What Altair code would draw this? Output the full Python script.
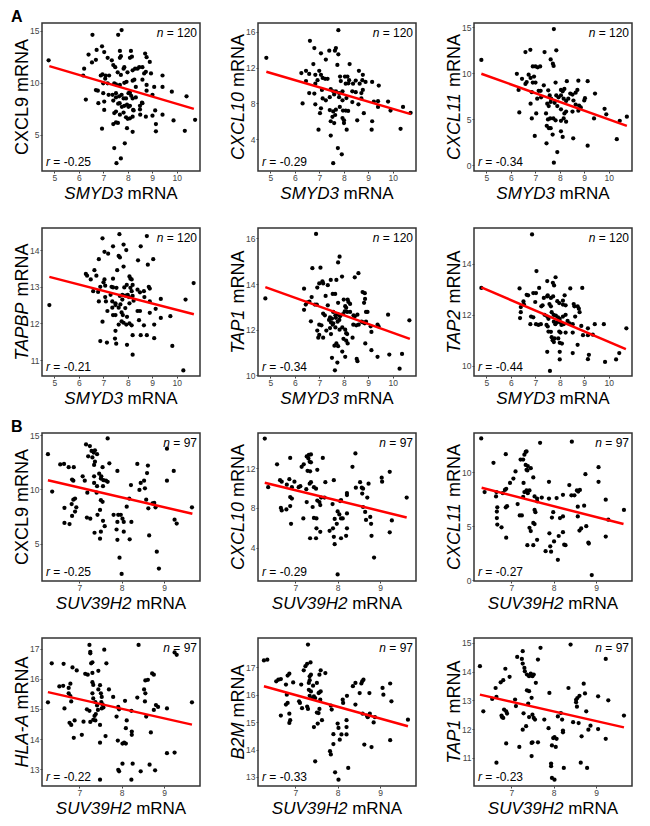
import altair as alt
import pandas as pd

# ---------------- data ----------------
A_CXCL9 = [(4.77,12.15),(6.56,14.6),(7.61,14.6),(7.75,15.05),(6.95,13.5),(6.73,13.15),(6.40,12.7),(7.04,12.95),(7.68,13.05),(7.72,12.55),(7.68,12.4),(8.13,13.05),(8.17,12.5),(8.09,12.4),(8.71,12.8),(8.77,12.45),(8.9,12.0),(6.54,11.95),(6.70,12.2),(7.18,12.4),(7.35,12.15),(7.41,11.7),(7.49,11.5),(6.22,11.35),(6.18,10.7),(7.83,11.35),(7.86,11.5),(7.59,11.0),(7.72,10.75),(7.99,11.0),(8.2,11.2),(8.3,11.35),(8.4,11.35),(8.47,11.5),(8.6,11.5),(8.67,10.9),(8.74,11.05),(8.95,10.9),(9.42,10.7),(6.9,10.7),(6.97,10.8),(7.1,10.7),(7.24,10.7),(7.08,10.4),(7.0,9.95),(7.18,9.95),(7.45,9.95),(7.52,9.85),(7.68,9.8),(7.86,10.0),(7.95,10.1),(8.2,10.2),(8.27,10.3),(8.33,9.6),(8.6,10.3),(8.77,9.8),(9.08,9.6),(9.42,9.6),(9.8,9.15),(10.4,8.7),(6.29,8.4),(6.70,9.3),(6.78,9.25),(7.0,9.0),(7.22,8.85),(7.38,8.85),(7.52,9.0),(7.65,8.7),(7.75,8.85),(7.83,8.5),(7.93,8.5),(8.03,9.0),(8.09,9.05),(8.14,8.75),(8.2,8.5),(8.33,8.6),(8.58,8.1),(8.77,9.25),(9.01,8.85),(6.8,8.05),(7.04,8.2),(7.04,7.4),(7.41,8.3),(7.52,8.6),(7.61,8.0),(7.67,8.05),(7.76,7.7),(7.86,7.8),(7.97,7.9),(8.03,7.7),(8.09,7.8),(8.22,7.4),(8.5,7.8),(8.5,7.45),(8.6,8.05),(8.74,6.75),(9.01,6.85),(9.42,6.95),(9.12,7.35),(6.95,5.6),(7.45,7.1),(7.52,7.25),(7.68,6.95),(7.83,7.15),(7.93,6.7),(8.0,6.55),(8.09,6.6),(8.2,6.75),(8.24,7.35),(8.51,6.95),(9.87,6.4),(10.75,6.45),(9.15,6.05),(9.15,5.35),(10.33,5.4),(7.41,6.05),(7.52,6.2),(7.6,6.15),(7.97,5.65),(8.2,5.3),(7.45,3.75),(7.88,4.2),(7.72,2.75),(7.54,2.3)]

A_CXCL10 = [(4.84,13.1),(7.78,16.2),(6.62,15.0),(6.8,14.2),(7.07,13.6),(7.41,13.9),(7.68,14.2),(7.64,13.9),(7.78,13.5),(6.76,12.4),(7.27,12.9),(7.74,12.3),(8.24,12.4),(6.27,11.4),(6.46,11.65),(6.59,11.3),(6.84,11.2),(7.0,11.65),(7.07,11.2),(7.14,10.85),(7.24,10.75),(7.34,10.75),(8.05,11.0),(8.15,11.0),(8.22,10.6),(7.85,11.0),(8.62,11.65),(8.78,11.2),(6.84,10.2),(6.93,10.6),(6.46,10.5),(7.88,10.5),(8.08,10.2),(8.19,10.25),(8.38,10.2),(8.49,10.55),(8.65,10.2),(8.76,10.6),(8.89,10.4),(9.16,10.4),(9.43,10.0),(6.8,9.1),(7.11,9.5),(7.47,9.6),(7.57,9.35),(7.68,9.35),(7.81,9.15),(7.95,9.35),(8.35,9.35),(8.49,9.25),(8.72,9.15),(8.78,9.5),(6.32,8.0),(6.59,9.15),(6.84,7.9),(7.14,8.55),(7.27,8.35),(7.43,8.7),(7.61,9.0),(7.81,8.7),(7.95,8.35),(8.11,8.6),(8.35,8.15),(8.72,8.55),(9.23,8.2),(9.4,8.25),(9.81,8.2),(7.07,7.45),(7.43,7.25),(7.57,7.1),(7.68,7.3),(7.84,7.6),(7.97,7.2),(8.08,7.2),(8.18,7.15),(8.6,7.9),(8.82,6.9),(9.4,7.6),(9.91,7.2),(10.42,7.6),(10.73,6.95),(7.03,6.9),(7.47,6.0),(7.54,6.5),(7.65,6.7),(7.95,6.35),(8.01,6.1),(8.01,5.8),(8.55,6.1),(9.16,6.0),(9.14,5.05),(10.32,5.15),(6.97,5.05),(7.61,5.8),(8.12,5.05),(7.47,4.4),(7.76,3.0),(7.92,2.3),(7.57,1.3)]

A_CXCL11 = [(4.8,11.45),(7.76,14.8),(6.6,12.3),(6.8,12.55),(7.38,12.3),(7.86,12.5),(7.63,11.5),(7.72,11.05),(7.75,10.8),(6.9,10.75),(7.01,10.75),(7.1,10.65),(7.2,10.75),(6.25,9.95),(6.73,9.85),(6.81,9.5),(6.95,9.65),(6.46,9.4),(6.6,8.85),(6.32,8.2),(6.65,9.05),(6.9,9.0),(7.01,9.0),(7.35,8.7),(7.83,9.0),(8.29,9.15),(8.76,9.2),(9.14,9.15),(7.14,8.1),(7.22,8.1),(6.86,7.95),(7.53,8.15),(8.05,8.2),(8.12,8.05),(8.19,8.3),(8.43,7.8),(8.52,7.7),(8.65,7.9),(8.72,8.2),(9.44,7.8),(6.81,6.7),(7.08,7.25),(7.24,7.4),(7.59,7.6),(7.65,7.25),(7.86,7.6),(7.95,7.4),(8.05,7.6),(8.16,7.25),(8.26,7.0),(8.35,7.25),(8.56,7.05),(8.65,6.6),(8.79,6.5),(9.0,7.05),(9.03,7.3),(8.76,5.95),(8.86,6.3),(9.83,6.15),(9.9,5.55),(7.49,6.7),(7.55,6.45),(7.63,6.9),(7.79,6.8),(7.9,6.45),(8.05,6.1),(8.19,5.65),(8.26,5.85),(8.52,5.85),(6.35,5.75),(7.04,5.65),(7.44,5.65),(7.52,5.0),(7.61,5.1),(7.74,5.1),(7.83,4.9),(8.05,4.85),(8.16,5.1),(8.26,4.75),(9.4,5.1),(10.45,4.85),(10.74,5.3),(6.86,5.1),(7.47,4.3),(7.56,4.05),(7.63,4.05),(7.71,3.35),(8.05,3.7),(8.12,3.1),(6.98,3.2),(7.46,2.4),(8.55,2.95),(10.33,2.85),(9.14,2.15),(7.9,1.45),(7.76,0.3)]

A_TAPBP = [(4.8,12.5),(6.97,14.32),(7.66,14.43),(8.78,14.38),(7.4,14.1),(7.83,14.15),(7.94,14.0),(7.05,13.95),(7.2,13.9),(6.82,13.75),(7.63,13.84),(7.68,13.8),(8.53,14.1),(8.42,13.72),(9.04,13.75),(7.83,13.55),(7.57,13.45),(6.64,13.45),(6.29,13.35),(6.34,13.3),(6.49,13.2),(6.72,13.3),(7.05,13.2),(7.01,13.12),(7.4,13.22),(8.07,13.28),(8.11,13.22),(8.16,13.2),(8.82,13.6),(6.88,13.0),(7.08,13.03),(7.34,13.0),(7.4,12.98),(7.54,12.97),(7.86,12.98),(7.96,13.05),(8.11,12.97),(8.2,13.05),(8.16,12.88),(8.4,12.92),(8.66,12.88),(8.86,13.0),(8.9,12.95),(6.59,12.88),(6.79,12.86),(7.08,12.72),(7.11,12.6),(7.3,12.78),(7.37,12.6),(7.5,12.55),(7.68,12.75),(7.78,12.78),(7.78,12.65),(7.9,12.76),(8.0,12.78),(8.05,12.72),(8.2,12.75),(8.24,12.62),(8.5,12.85),(8.68,12.72),(9.35,12.67),(10.36,12.65),(10.69,13.1),(6.82,12.6),(7.37,12.43),(7.5,12.5),(7.63,12.43),(7.7,12.52),(7.9,12.42),(8.07,12.55),(8.9,12.6),(8.4,12.34),(8.5,12.34),(7.17,12.34),(7.4,12.23),(7.5,12.23),(7.75,12.3),(7.8,12.23),(7.97,12.18),(8.9,12.29),(9.14,12.4),(9.35,12.15),(9.74,12.2),(7.75,12.06),(7.83,12.02),(7.94,11.97),(8.07,12.0),(8.16,11.95),(6.97,12.05),(7.63,11.97),(8.46,12.09),(8.66,11.95),(9.08,11.97),(7.5,11.8),(8.2,11.68),(7.48,11.59),(7.53,11.45),(6.88,11.52),(7.15,11.48),(7.97,11.42),(8.53,11.68),(8.78,11.68),(9.08,11.6),(8.2,11.15),(9.82,11.39),(10.27,10.72)]

A_TAP1 = [(4.8,13.37),(6.87,16.2),(7.83,15.2),(6.72,14.7),(7.05,14.72),(7.47,14.18),(7.7,14.18),(7.93,14.33),(7.13,14.12),(7.16,14.03),(7.0,14.03),(7.35,13.95),(7.77,14.95),(8.45,14.3),(8.6,14.48),(6.38,13.8),(6.92,13.85),(7.26,13.48),(7.55,13.57),(7.65,13.57),(6.69,13.43),(6.45,13.1),(6.52,13.2),(6.6,13.23),(6.38,12.87),(6.82,13.1),(6.9,13.1),(7.35,13.07),(7.77,13.18),(8.0,13.32),(8.16,13.32),(8.19,13.22),(8.26,13.13),(8.77,13.65),(8.86,13.6),(8.87,13.35),(8.83,13.18),(8.06,13.03),(8.1,12.96),(8.04,12.8),(8.14,12.78),(7.97,12.68),(7.85,12.59),(7.16,12.71),(7.23,12.63),(7.57,12.78),(7.66,12.63),(7.75,12.68),(7.44,12.54),(7.52,12.49),(7.68,12.52),(7.4,12.43),(7.48,12.32),(7.57,12.28),(7.75,12.35),(7.82,12.43),(8.26,12.78),(8.4,12.63),(8.45,12.59),(8.56,12.66),(8.91,12.78),(8.97,12.78),(8.73,12.35),(8.79,12.32),(8.86,12.28),(8.91,12.35),(9.81,12.66),(10.68,12.41),(9.38,12.22),(9.42,12.15),(9.1,12.15),(9.13,11.9),(8.39,12.22),(8.51,12.19),(8.61,12.22),(7.0,12.22),(7.09,12.19),(7.44,12.07),(7.55,12.22),(7.66,12.1),(7.83,12.0),(7.94,12.1),(8.06,12.0),(8.1,11.85),(8.14,11.81),(6.66,12.37),(6.92,11.96),(7.0,11.77),(7.16,11.65),(6.96,11.65),(7.29,11.96),(7.48,11.81),(7.99,11.6),(8.1,11.52),(8.16,11.4),(7.7,11.4),(7.77,11.28),(7.62,11.3),(7.94,11.04),(8.36,11.65),(8.88,11.4),(9.13,11.1),(9.38,10.81),(9.86,10.91),(10.38,10.94),(8.06,10.81),(7.52,10.77),(7.74,10.56),(8.53,10.72),(8.56,10.62),(7.64,10.22),(10.28,10.29)]

A_TAP2 = [(4.8,13.05),(6.87,15.15),(7.05,13.71),(7.83,13.47),(7.72,13.25),(7.77,13.15),(7.49,13.32),(6.36,13.03),(7.16,13.05),(8.43,13.03),(8.92,13.05),(6.65,12.78),(6.71,12.76),(6.92,12.85),(7.03,12.85),(7.35,12.66),(7.49,12.72),(7.51,12.76),(7.64,12.66),(7.73,12.72),(8.2,12.76),(8.13,12.55),(7.9,12.53),(7.98,12.46),(8.57,12.42),(8.6,12.33),(8.73,12.33),(6.54,12.4),(6.41,12.3),(6.52,12.52),(7.0,12.5),(7.25,12.33),(7.3,12.37),(7.58,12.42),(7.64,12.33),(8.13,12.4),(8.24,12.37),(8.78,12.24),(8.81,12.1),(6.41,12.1),(6.38,11.87),(6.83,11.93),(6.92,11.9),(7.38,12.0),(7.49,11.93),(7.54,11.84),(7.67,12.1),(7.75,12.0),(7.84,11.97),(7.93,11.9),(8.0,11.84),(8.13,11.93),(8.24,12.0),(8.32,11.76),(8.63,11.93),(7.03,11.63),(7.13,11.6),(7.23,11.63),(6.8,11.63),(7.46,11.6),(7.51,11.54),(7.76,11.73),(7.82,11.63),(7.89,11.7),(8.03,11.7),(8.07,11.6),(8.16,11.63),(8.4,11.66),(8.53,11.63),(8.88,11.56),(9.15,11.47),(9.43,11.63),(9.8,11.63),(10.72,11.47),(7.54,11.34),(7.64,11.33),(7.98,11.34),(8.03,11.3),(8.24,11.3),(8.53,11.3),(8.95,11.2),(9.15,11.2),(9.35,11.22),(7.67,11.12),(7.71,11.0),(7.76,10.93),(7.79,11.07),(7.94,11.07),(8.0,10.9),(8.09,10.87),(8.73,10.82),(7.49,10.55),(8.0,10.55),(8.53,10.5),(9.19,10.43),(9.15,10.26),(8.0,10.25),(10.43,10.5),(10.3,10.25),(9.85,10.15),(7.6,9.8)]

B_CXCL9 = [(6.26,13.25),(6.36,9.8),(6.55,12.3),(6.64,12.35),(6.75,12.05),(6.87,12.05),(6.83,10.9),(6.86,10.8),(6.86,9.05),(6.9,9.15),(6.82,8.65),(6.93,8.35),(6.65,8.3),(6.9,7.95),(6.83,7.55),(6.65,6.9),(6.77,6.8),(7.08,11.2),(7.13,10.8),(7.16,14.15),(7.25,14.0),(7.21,13.05),(7.29,13.55),(7.34,13.4),(7.37,13.6),(7.31,12.95),(7.37,12.55),(7.35,12.25),(7.42,13.25),(7.67,14.7),(7.35,11.2),(7.35,10.6),(7.47,11.45),(7.52,11.2),(7.55,12.05),(7.51,11.0),(7.57,10.85),(7.63,10.8),(7.67,10.7),(7.71,12.4),(7.19,9.7),(7.41,9.7),(7.51,9.0),(7.55,8.85),(7.18,7.4),(7.26,7.3),(7.43,7.65),(7.49,8.1),(7.56,7.1),(7.6,6.6),(7.36,6.0),(7.49,5.45),(7.51,6.1),(7.81,7.65),(7.9,11.7),(7.92,7.65),(7.98,7.65),(7.9,7.0),(7.88,6.3),(7.9,5.35),(8.19,5.4),(8.02,7.3),(8.05,7.0),(8.05,6.1),(7.95,3.7),(8.0,2.2),(8.12,8.4),(8.22,10.4),(8.18,9.15),(8.23,7.0),(8.37,12.35),(8.42,9.95),(8.45,10.6),(8.53,10.8),(8.55,10.1),(8.58,9.05),(8.6,11.5),(8.62,12.2),(8.63,8.25),(8.65,5.75),(8.73,8.7),(8.77,8.75),(8.8,8.35),(8.83,4.25),(8.88,2.7),(9.07,13.75),(9.07,10.8),(9.23,11.7),(9.25,7.2),(9.3,6.85),(9.66,8.35),(7.56,10.3),(7.42,10.3)]

B_CXCL10 = [(6.28,15.0),(6.36,10.1),(6.57,12.4),(6.64,10.8),(6.68,10.65),(6.66,8.0),(6.68,7.75),(6.79,7.85),(6.8,10.35),(6.86,10.9),(6.88,13.05),(6.88,9.1),(6.92,8.95),(6.88,8.2),(6.92,10.1),(6.9,6.4),(6.98,10.65),(7.08,10.1),(7.12,10.2),(7.19,6.95),(7.15,12.15),(7.2,12.4),(7.27,13.2),(7.32,13.35),(7.37,13.4),(7.31,13.0),(7.34,12.65),(7.37,12.6),(7.29,11.75),(7.35,11.7),(7.26,9.9),(7.27,8.6),(7.34,10.45),(7.37,10.6),(7.35,4.95),(7.41,8.1),(7.44,10.1),(7.49,9.95),(7.44,7.0),(7.5,6.95),(7.5,5.95),(7.49,4.95),(7.52,11.85),(7.52,8.75),(7.57,8.6),(7.59,8.3),(7.59,5.6),(7.65,13.05),(7.61,9.05),(7.69,9.05),(7.71,10.6),(7.81,5.7),(7.88,8.4),(7.91,10.8),(7.89,5.95),(7.91,5.1),(7.93,6.9),(7.93,4.35),(7.98,6.4),(8.0,1.3),(8.0,7.65),(8.04,7.35),(8.06,8.7),(8.08,8.8),(8.08,6.95),(8.12,6.95),(8.08,4.95),(8.2,5.2),(8.22,5.95),(8.22,7.45),(8.22,9.5),(8.22,9.3),(8.35,12.15),(8.42,13.5),(8.43,10.05),(8.53,10.6),(8.57,10.05),(8.6,9.95),(8.58,9.45),(8.6,8.1),(8.65,7.6),(8.67,6.8),(8.7,9.05),(8.73,10.45),(8.77,7.1),(8.79,6.4),(8.8,5.2),(8.86,3.0),(9.04,11.05),(9.05,10.65),(9.23,11.65),(9.23,5.55),(9.28,6.75),(9.63,9.05)]

B_CXCL11 = [(6.29,13.1),(6.37,8.15),(6.58,10.85),(6.65,8.15),(6.64,7.75),(6.66,5.75),(6.67,5.15),(6.67,6.75),(6.66,6.35),(6.77,4.9),(6.8,8.05),(6.87,11.65),(6.85,8.35),(6.88,8.45),(6.87,6.75),(6.9,6.85),(6.88,3.95),(6.97,9.0),(7.05,9.4),(7.1,10.05),(7.15,7.05),(7.2,6.0),(7.25,6.0),(7.22,11.15),(7.28,11.15),(7.29,9.0),(7.28,7.7),(7.31,11.6),(7.34,11.85),(7.36,11.9),(7.34,10.65),(7.39,10.55),(7.38,10.15),(7.36,10.2),(7.31,8.15),(7.36,8.3),(7.39,8.05),(7.38,3.25),(7.43,8.3),(7.43,4.85),(7.46,4.55),(7.46,10.35),(7.52,9.5),(7.52,5.3),(7.55,5.2),(7.52,3.25),(7.55,6.5),(7.57,6.3),(7.55,7.75),(7.61,7.55),(7.61,7.3),(7.61,3.75),(7.68,12.7),(7.72,7.65),(7.89,9.1),(7.89,7.55),(7.9,4.35),(7.92,3.15),(7.94,2.65),(7.96,5.8),(7.99,6.3),(8.01,3.6),(7.81,2.7),(8.07,7.6),(8.1,1.9),(8.12,4.1),(8.15,5.75),(8.22,5.9),(8.22,7.9),(8.25,3.3),(8.28,3.25),(8.22,4.45),(8.37,8.8),(8.42,7.85),(8.49,7.85),(8.43,12.8),(8.55,8.3),(8.58,8.2),(8.62,8.35),(8.57,6.8),(8.57,5.9),(8.61,4.6),(8.65,4.8),(8.72,6.9),(8.75,9.8),(8.77,5.0),(8.82,3.5),(8.83,3.4),(8.9,0.5),(9.06,10.45),(9.06,9.1),(9.23,7.45),(9.23,4.05),(9.29,5.6),(9.66,6.5)]

B_HLAA = [(6.26,15.22),(6.35,16.52),(6.63,16.5),(6.53,15.75),(6.62,15.77),(6.65,15.02),(6.75,15.52),(6.79,15.43),(6.79,15.84),(6.81,15.25),(6.75,15.7),(6.84,16.38),(6.94,16.28),(6.77,14.54),(6.81,14.47),(6.89,14.62),(6.87,14.04),(7.06,14.14),(7.1,14.58),(7.14,16.17),(7.2,16.14),(7.18,14.99),(7.24,14.94),(7.24,17.13),(7.26,16.9),(7.26,16.85),(7.28,16.52),(7.31,16.55),(7.31,16.2),(7.31,15.89),(7.33,15.8),(7.31,15.52),(7.26,14.57),(7.33,15.35),(7.38,15.23),(7.36,14.77),(7.39,14.83),(7.42,15.12),(7.44,14.97),(7.33,14.64),(7.38,14.62),(7.45,15.65),(7.49,15.79),(7.49,14.47),(7.45,16.27),(7.51,15.52),(7.53,15.4),(7.52,15.23),(7.55,15.15),(7.57,15.05),(7.53,15.02),(7.59,16.97),(7.62,14.1),(7.64,16.52),(7.7,15.65),(7.49,13.88),(7.8,15.4),(7.88,14.75),(7.91,13.95),(7.92,15.07),(7.94,14.99),(7.92,12.98),(7.94,12.93),(8.02,13.85),(8.06,13.88),(8.1,13.85),(8.02,13.18),(8.08,15.27),(8.1,14.36),(8.12,14.62),(8.23,14.94),(8.24,14.25),(8.24,14.14),(8.26,13.18),(8.23,12.65),(8.37,15.38),(8.4,17.13),(8.45,12.93),(8.53,15.65),(8.56,15.52),(8.55,15.25),(8.56,15.95),(8.62,15.97),(8.58,14.75),(8.66,13.15),(8.69,14.22),(8.72,16.18),(8.76,16.14),(8.76,14.97),(8.79,12.96),(8.81,15.13),(8.86,15.07),(9.07,15.02),(9.07,13.53),(9.25,13.55),(9.25,16.88),(9.3,16.8),(9.66,15.22),(7.49,12.65)]

B_B2M = [(6.26,17.25),(6.34,17.28),(6.55,16.49),(6.6,16.55),(6.66,16.57),(6.66,15.24),(6.78,16.37),(6.82,16.7),(6.86,16.77),(6.8,16.0),(6.82,15.7),(6.78,15.64),(6.86,15.31),(6.88,15.07),(6.86,14.97),(6.95,16.45),(7.09,15.76),(7.11,15.7),(7.14,16.37),(7.16,15.51),(7.2,16.89),(7.24,17.04),(7.28,17.13),(7.36,17.18),(7.3,17.83),(7.28,15.57),(7.3,15.48),(7.32,16.43),(7.34,16.53),(7.34,16.67),(7.37,16.73),(7.32,16.18),(7.37,16.12),(7.34,15.96),(7.4,15.88),(7.44,15.94),(7.47,15.88),(7.44,14.82),(7.42,16.33),(7.47,13.57),(7.51,15.35),(7.55,15.33),(7.57,15.48),(7.55,16.06),(7.57,16.09),(7.6,16.12),(7.57,16.73),(7.6,16.89),(7.51,16.43),(7.53,14.95),(7.59,15.82),(7.63,15.07),(7.71,16.79),(7.82,13.94),(7.84,13.82),(7.84,15.6),(7.86,15.46),(7.9,14.56),(7.9,14.2),(7.94,13.17),(8.02,12.9),(8.0,14.95),(8.02,14.79),(8.05,14.36),(8.09,14.55),(8.12,15.82),(8.13,15.7),(8.21,15.07),(8.21,14.82),(8.21,14.55),(8.22,15.96),(8.25,13.33),(8.36,16.31),(8.42,16.43),(8.42,15.64),(8.52,16.06),(8.56,16.41),(8.58,16.49),(8.61,16.55),(8.63,14.18),(8.59,15.31),(8.69,15.24),(8.71,15.18),(8.75,16.06),(8.76,15.31),(8.8,14.09),(8.85,14.99),(8.88,15.18),(9.06,16.25),(9.08,16.0),(9.24,16.41),(9.27,15.76),(9.24,14.34),(9.66,15.09)]

B_TAP1 = [(6.26,14.19),(6.34,12.62),(6.55,13.05),(6.63,13.43),(6.65,13.12),(6.65,10.83),(6.75,13.63),(6.81,13.7),(6.78,12.42),(6.81,12.39),(6.77,12.47),(6.83,12.68),(6.88,12.62),(6.9,12.54),(6.86,14.1),(6.88,11.5),(6.96,13.82),(7.09,13.03),(7.11,12.8),(7.14,14.51),(7.19,11.38),(7.25,14.44),(7.27,14.28),(7.27,14.71),(7.27,11.98),(7.31,14.13),(7.32,14.01),(7.37,13.9),(7.29,12.55),(7.35,12.1),(7.37,13.35),(7.42,13.32),(7.4,12.89),(7.42,12.42),(7.42,13.84),(7.46,13.93),(7.48,11.52),(7.5,11.54),(7.48,13.09),(7.48,11.06),(7.5,12.5),(7.53,12.39),(7.56,12.33),(7.5,13.84),(7.53,13.9),(7.58,13.61),(7.63,14.42),(7.63,11.54),(7.69,14.83),(7.78,12.33),(7.9,13.26),(7.88,12.03),(7.94,10.8),(7.94,10.71),(7.96,11.43),(7.99,11.69),(8.02,11.72),(8.07,11.66),(7.96,10.3),(8.02,10.24),(8.05,11.38),(8.1,12.44),(8.17,12.56),(8.2,12.33),(8.22,11.95),(8.22,11.89),(8.24,10.65),(8.35,13.43),(8.4,14.94),(8.46,12.24),(8.53,12.93),(8.53,13.02),(8.56,13.08),(8.55,12.78),(8.59,12.21),(8.61,13.16),(8.64,10.83),(8.66,11.75),(8.71,13.58),(8.74,13.24),(8.77,12.62),(8.79,10.65),(8.82,11.98),(8.87,12.12),(9.05,13.14),(9.05,12.0),(9.23,14.44),(9.23,11.66),(9.29,13.0),(9.66,12.47)]

# regression lines: (start, end)
A_CXCL9_LINE = [(4.8, 11.6), (10.7, 7.5)]
A_CXCL10_LINE = [(4.84, 11.55), (10.74, 6.8)]
A_CXCL11_LINE = [(4.8, 9.95), (10.74, 4.3)]
A_TAPBP_LINE = [(4.8, 13.27), (10.7, 12.25)]
A_TAP1_LINE = [(4.8, 13.87), (10.7, 11.6)]
A_TAP2_LINE = [(4.8, 13.07), (10.7, 10.65)]
B_CXCL9_LINE = [(6.26, 10.85), (9.67, 7.75)]
B_CXCL10_LINE = [(6.28, 10.55), (9.63, 7.05)]
B_CXCL11_LINE = [(6.3, 8.55), (9.65, 5.2)]
B_HLAA_LINE = [(6.26, 15.56), (9.66, 14.48)]
B_B2M_LINE = [(6.26, 16.31), (9.66, 14.85)]
B_TAP1_LINE = [(6.26, 13.2), (9.66, 12.06)]

N_A = 120
N_B = 97
R_VALUES = ["-0.25", "-0.29", "-0.34", "-0.21", "-0.34", "-0.44",
            "-0.25", "-0.29", "-0.27", "-0.22", "-0.33", "-0.23"]
X_TICKS_A = [5, 6, 7, 8, 9, 10]
X_TICKS_B = [7, 8, 9]
X_DOMAIN_A = [4.5, 10.95]
X_DOMAIN_B = [6.12, 9.85]

# ---------------- layout / style ----------------
FONT = "Liberation Sans"
W, H = 158, 148
XT, YT, AN = 17, 18, 12
ONE = pd.DataFrame({"k": [0]})

AW = {' ': 278, '-': 333, '.': 278, '=': 584, 'A': 667, 'B': 667, 'C': 722, 'D': 722,
      'H': 722, 'L': 556, 'M': 833, 'N': 722, 'P': 667, 'R': 722, 'S': 667, 'T': 611,
      'U': 722, 'V': 667, 'X': 667, 'Y': 667, 'm': 833, 'n': 556, 'r': 333}


def tw(s, size):
    return sum(AW.get(c, 556) for c in s) * size / 1000.0


def txt(s, x, y, size, italic=False, bold=False, angle=0, align="left"):
    kw = dict(text=s, font=FONT, fontSize=size, align=align, baseline="alphabetic", color="black")
    if italic:
        kw["fontStyle"] = "italic"
    if bold:
        kw["fontWeight"] = "bold"
    if angle:
        kw["angle"] = angle
    return alt.Chart(ONE).mark_text(**kw).encode(x=alt.value(x), y=alt.value(y))


def segs_width(segs, size):
    return sum(tw(s, size) for s, _ in segs) + tw(" ", size) * (len(segs) - 1)


def panel(pts, line, xsegs, ysegs, n, r, xdom, xticks, ydom, yticks, tag=None):
    xs = alt.Scale(domain=xdom, nice=False, zero=False)
    ys = alt.Scale(domain=ydom, nice=False, zero=False)
    X = alt.X("x:Q", scale=xs, axis=alt.Axis(values=xticks, title=None, format="d"))
    Y = alt.Y("y:Q", scale=ys, axis=alt.Axis(values=yticks, title=None, format="d"))
    pdf = pd.DataFrame(pts, columns=["x", "y"])
    ldf = pd.DataFrame(line, columns=["x", "y"])
    layers = [
        alt.Chart(pdf).mark_circle(size=18, color="black", opacity=1, clip=True).encode(x=X, y=Y),
        alt.Chart(ldf).mark_line(color="#ff0000", strokeWidth=2.5, clip=True).encode(x=X, y=Y),
    ]
    # x title
    cx = W / 2 - segs_width(xsegs, XT) / 2
    for s, it in xsegs:
        layers.append(txt(s, cx, H + 28, XT, italic=it))
        cx += tw(s, XT) + tw(" ", XT)
    # y title (rotated, reads bottom to top)
    cy = H / 2 + segs_width(ysegs, YT) / 2
    for s, it in ysegs:
        layers.append(txt(s, -14, cy, YT, italic=it, angle=270))
        cy -= tw(s, YT) + tw(" ", YT)
    # n = ...
    rest = "= %d" % n
    total = tw("n", AN) + tw(" ", AN) + tw(rest, AN)
    x0 = W - 3 - total
    layers.append(txt("n", x0, 14, AN, italic=True))
    layers.append(txt(rest, x0 + tw("n", AN) + tw(" ", AN), 14, AN))
    # r = ...
    layers.append(txt("r", 4, H - 5, AN, italic=True))
    layers.append(txt("= " + r, 4 + tw("r", AN) + tw(" ", AN), H - 5, AN))
    if tag:
        layers.append(txt(tag, -31, -1, 16, bold=True))
    return alt.layer(*layers).properties(width=W, height=H)


XA = [("SMYD3", True), ("mRNA", False)]
XB = [("SUV39H2", True), ("mRNA", False)]

panels = [
    panel(A_CXCL9, A_CXCL9_LINE, XA, [("CXCL9", False), ("mRNA", False)], N_A, R_VALUES[0],
          X_DOMAIN_A, X_TICKS_A, [1.55, 15.73], [5, 10, 15], tag="A"),
    panel(A_CXCL10, A_CXCL10_LINE, XA, [("CXCL10", True), ("mRNA", False)], N_A, R_VALUES[1],
          X_DOMAIN_A, X_TICKS_A, [0.43, 17.0], [4, 8, 12, 16]),
    panel(A_CXCL11, A_CXCL11_LINE, XA, [("CXCL11", True), ("mRNA", False)], N_A, R_VALUES[2],
          X_DOMAIN_A, X_TICKS_A, [-0.6, 15.46], [0, 5, 10, 15]),
    panel(A_TAPBP, A_TAPBP_LINE, XA, [("TAPBP", True), ("mRNA", False)], N_A, R_VALUES[3],
          X_DOMAIN_A, X_TICKS_A, [10.57, 14.6], [11, 12, 13, 14]),
    panel(A_TAP1, A_TAP1_LINE, XA, [("TAP1", True), ("mRNA", False)], N_A, R_VALUES[4],
          X_DOMAIN_A, X_TICKS_A, [9.97, 16.46], [10, 12, 14, 16]),
    panel(A_TAP2, A_TAP2_LINE, XA, [("TAP2", True), ("mRNA", False)], N_A, R_VALUES[5],
          X_DOMAIN_A, X_TICKS_A, [9.6, 15.4], [10, 12, 14]),
    panel(B_CXCL9, B_CXCL9_LINE, XB, [("CXCL9", False), ("mRNA", False)], N_B, R_VALUES[6],
          X_DOMAIN_B, X_TICKS_B, [1.55, 15.2], [5, 10, 15], tag="B"),
    panel(B_CXCL10, B_CXCL10_LINE, XB, [("CXCL10", True), ("mRNA", False)], N_B, R_VALUES[7],
          X_DOMAIN_B, X_TICKS_B, [0.64, 15.56], [4, 8, 12]),
    panel(B_CXCL11, B_CXCL11_LINE, XB, [("CXCL11", True), ("mRNA", False)], N_B, R_VALUES[8],
          X_DOMAIN_B, X_TICKS_B, [-0.05, 13.6], [0, 5, 10]),
    panel(B_HLAA, B_HLAA_LINE, XB, [("HLA-A", True), ("mRNA", False)], N_B, R_VALUES[9],
          X_DOMAIN_B, X_TICKS_B, [12.44, 17.36], [13, 14, 15, 16, 17]),
    panel(B_B2M, B_B2M_LINE, XB, [("B2M", True), ("mRNA", False)], N_B, R_VALUES[10],
          X_DOMAIN_B, X_TICKS_B, [12.67, 18.07], [13, 14, 15, 16, 17]),
    panel(B_TAP1, B_TAP1_LINE, XB, [("TAP1", True), ("mRNA", False)], N_B, R_VALUES[11],
          X_DOMAIN_B, X_TICKS_B, [10.02, 15.17], [11, 12, 13, 14, 15]),
]

chart = alt.concat(*panels, columns=3, spacing={"row": 57, "column": 58}, bounds="flush").properties(
    padding={"left": 2, "top": 0, "right": 5, "bottom": 5}
).configure_view(
    stroke="#333333", strokeWidth=1.5
).configure_axis(
    grid=False, domain=False, tickSize=2, tickColor="#444444", labelFont=FONT,
    labelFontSize=8.5, labelColor="#444444", labelFlush=False, labelOverlap=False
).configure_axisX(labelPadding=0).configure_axisY(labelPadding=1)

chart.save("out.html", embed_options={"renderer": "svg", "actions": False})
